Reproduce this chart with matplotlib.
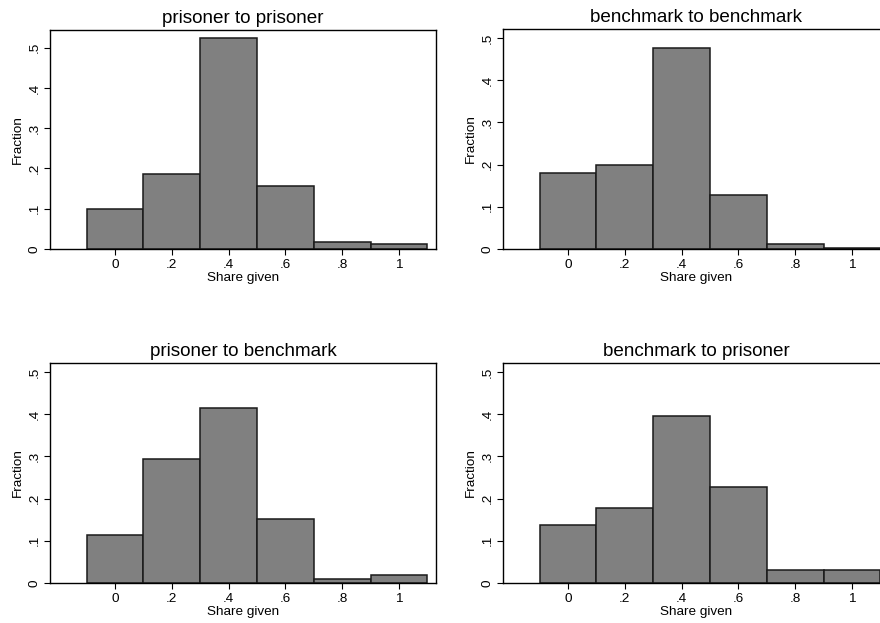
import matplotlib
matplotlib.use("Agg")
import matplotlib.pyplot as plt

plt.rcParams["font.family"] = ["Liberation Sans", "DejaVu Sans"]

# bin centres of the share given, and fraction in each bin
bins = [0.0, 0.2, 0.4, 0.6, 0.8, 1.0]
bin_width = 0.2

titles = ["prisoner to prisoner", "benchmark to benchmark",
          "prisoner to benchmark", "benchmark to prisoner"]
prisoner_prisoner = [0.100, 0.186, 0.523, 0.156, 0.018, 0.013]
benchmark_benchmark = [0.179, 0.200, 0.475, 0.129, 0.011, 0.003]
prisoner_benchmark = [0.114, 0.293, 0.415, 0.151, 0.0095, 0.019]
benchmark_prisoner = [0.138, 0.178, 0.396, 0.228, 0.030, 0.030]
ytops = [0.544, 0.521, 0.521, 0.521]

yticks = [0, 0.1, 0.2, 0.3, 0.4, 0.5]
ytick_labels = ["0", ".1", ".2", ".3", ".4", ".5"]
xticks = [0, 0.2, 0.4, 0.6, 0.8, 1.0]
xtick_labels = ["0", ".2", ".4", ".6", ".8", "1"]

W, H = 880, 623
fig = plt.figure(figsize=(W / 100, H / 100), dpi=100)

# panel boxes in pixels: left, top, right, bottom
boxes = [(50, 30, 436, 249), (503, 29, 889, 249),
         (50, 363, 436, 583), (503, 363, 889, 583)]
data = [prisoner_prisoner, benchmark_benchmark, prisoner_benchmark, benchmark_prisoner]

for (l, t, r, b), vals, title, ytop in zip(boxes, data, titles, ytops):
    ax = fig.add_axes([l / W, (H - b) / H, (r - l) / W, (b - t) / H])
    ax.bar(bins, vals, width=bin_width, color="#808080", edgecolor="#1a1a1a",
           linewidth=1.1, zorder=2)
    ax.set_xlim(-0.229, 1.13)
    ax.set_ylim(0, ytop)
    ax.set_yticks(yticks)
    ax.set_yticklabels(ytick_labels, rotation=90, va="center")
    ax.set_xticks(xticks)
    ax.set_xticklabels(xtick_labels)
    ax.tick_params(direction="out", length=4, width=0.8, labelsize=9.7, pad=3)
    for s in ax.spines.values():
        s.set_linewidth(1.0)
    ax.set_xlabel("Share given", fontsize=9.7, labelpad=1)
    ax.set_ylabel("Fraction", fontsize=9.7, labelpad=3)
    ax.set_title(title, fontsize=13.6, pad=5)

plt.savefig("out.png", dpi=100)
